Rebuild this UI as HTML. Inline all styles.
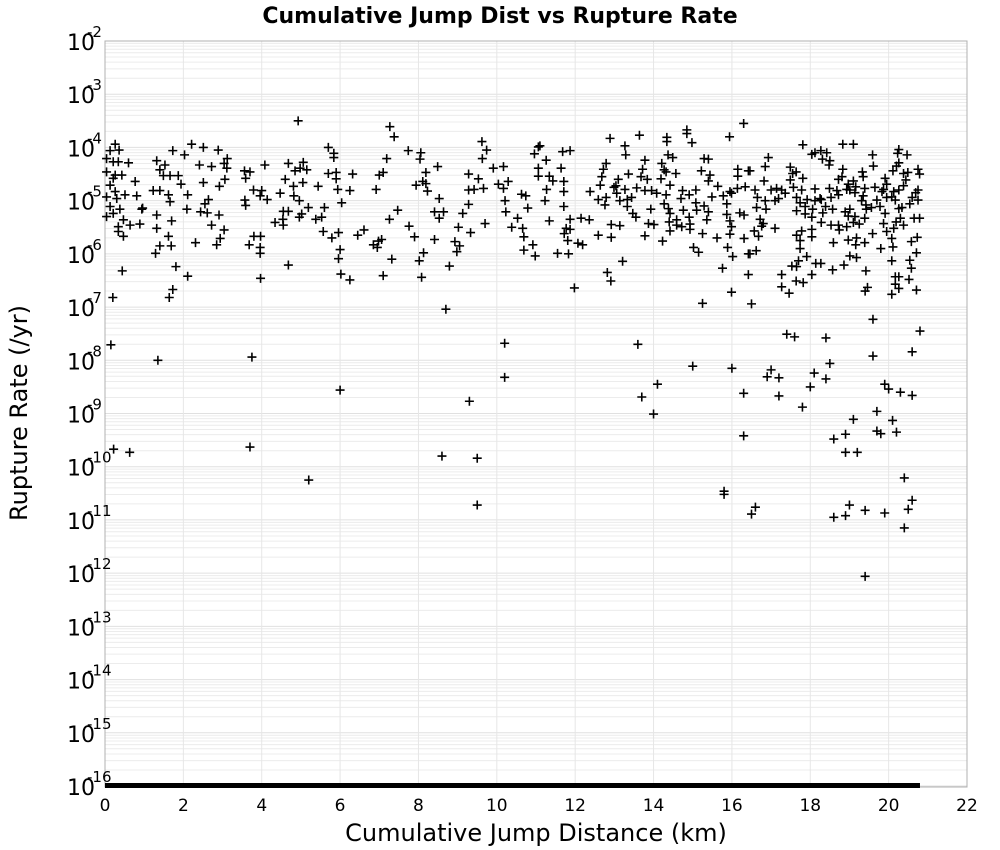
<!DOCTYPE html>
<html><head><meta charset="utf-8">
<style>
html,body{margin:0;padding:0;background:#fff;}
svg{display:block;font-family:"DejaVu Sans","Liberation Sans",sans-serif;}
</style></head>
<body>
<svg id="chart" width="1000" height="850" viewBox="0 0 1000 850" xmlns="http://www.w3.org/2000/svg">
<rect x="0" y="0" width="1000" height="850" fill="#fff"/>
<text x="500" y="23" text-anchor="middle" font-size="22" font-weight="bold">Cumulative Jump Dist vs Rupture Rate</text>
<g id="grid"></g>
<rect x="105" y="41" width="862" height="746" fill="none" stroke="#b0b0b0" stroke-width="1"/>
<g id="yticks"></g>
<g id="xticks"></g>
<g id="marks"></g>
<text x="536" y="841" text-anchor="middle" font-size="24">Cumulative Jump Distance (km)</text>
<text transform="translate(27,413) rotate(-90)" text-anchor="middle" font-size="24">Rupture Rate (/yr)</text>
</svg>
<script>
const xTicks = [0,2,4,6,8,10,12,14,16,18,20,22];
const yTickExps = [-2,-3,-4,-5,-6,-7,-8,-9,-10,-11,-12,-13,-14,-15,-16];
const clippedRange = [0, 20.8];
const distKm = [
4.93,0.26,0.13,0.36,0.04,0.21,0.34,0.6,0.04,0.26,0.43,0.21,0.77,0.13,0.26,0.51,0.81,0.04,0.3,0.13,0.38,0.94,0.21,0.04,0.47,0.64,0.89,0.34,0.34,0.47,0.44,0.2,
1.32,1.53,1.4,1.49,1.66,1.87,1.73,2.03,2.21,2.51,2.89,3.12,2.41,2.72,3.04,3.11,1.94,2.51,3.06,2.92,1.23,1.4,1.62,1.66,2.11,2.64,2.55,2.09,2.44,2.61,0.96,1.32,2.91,1.7,2.72,3.04,1.32,1.62,2.94,1.4,1.69,2.31,2.85,1.29,1.81,2.11,1.73,1.64,
3.56,3.7,3.59,4.08,3.79,4.0,3.96,4.14,3.57,3.59,4.47,4.68,4.85,5.06,4.98,5.15,4.6,5.05,4.81,5.44,4.82,4.96,5.19,4.55,4.68,5.02,4.96,4.54,4.34,4.55,5.38,3.8,3.97,3.68,3.96,3.96,3.97,4.68,
7.27,7.38,5.70,5.84,5.84,7.19,7.74,8.06,8.04,5.70,5.90,5.90,6.32,7.0,7.1,8.19,8.49,8.11,8.19,7.94,8.23,5.94,6.25,6.92,6.04,5.60,5.53,5.57,5.79,5.96,6.0,5.96,6.02,6.25,6.45,6.61,6.85,6.98,7.06,6.95,7.26,7.47,7.76,7.9,7.32,7.1,8.13,8.02,8.08,8.53,8.41,8.64,8.53,8.41,8.79,8.93,9.05,8.98,9.02,9.33,9.13,9.28,9.28,9.42,9.28,9.53,9.66,9.62,9.74,9.63,9.91,10.17,10.04,10.17,10.29,9.70,10.21,10.23,10.53,10.38,10.66,10.69,10.69,10.92,10.98,10.63,10.74,10.79,10.96,11.06,11.06,11.06,
11.1,11.68,11.87,11.26,11.64,11.34,11.43,11.71,11.27,11.71,11.23,11.71,11.34,11.87,12.15,12.36,11.77,11.87,11.72,11.81,12.07,12.19,11.55,11.83,11.98,12.89,13.64,13.27,13.29,12.79,12.72,12.68,12.64,12.38,12.59,12.79,12.76,13.1,13.04,12.99,13.06,13.14,13.27,13.36,13.33,13.44,13.33,13.47,13.55,12.92,13.14,12.92,12.59,13.21,12.82,12.91,
13.78,13.72,13.68,13.84,13.57,13.78,13.95,14.08,13.93,13.87,14.01,13.78,14.21,14.27,14.32,14.37,14.49,14.34,14.34,14.19,14.42,14.32,14.27,14.38,14.42,14.40,14.57,14.59,14.59,14.72,14.42,14.23,14.74,14.70,14.76,14.91,15.08,15.08,15.1,14.91,14.93,14.93,14.85,14.85,14.98,15.29,15.40,15.22,15.44,15.40,15.64,15.49,15.29,15.40,15.36,15.25,15.02,15.15,15.62,15.78,15.87,15.87,15.95,15.99,15.95,15.89,16.02,15.76,15.99,15.25,15.94,16.3,16.15,16.15,16.42,16.14,16.34,15.95,15.99,16.2,16.31,16.31,16.42,16.42,
17.81,18.83,19.10,16.93,16.85,16.82,16.59,16.46,16.65,16.63,16.85,16.87,16.72,16.8,16.76,16.57,16.68,17.1,16.62,16.46,17.0,17.14,17.27,17.19,17.1,17.36,17.49,17.49,17.55,17.64,17.57,17.78,17.81,17.65,17.74,17.65,17.87,17.87,18.04,18.06,17.92,18.12,18.04,18.12,18.27,18.42,18.31,18.5,18.48,18.12,18.28,18.25,18.39,18.32,18.28,18.49,18.53,18.57,18.53,18.72,18.74,18.59,18.68,18.72,18.81,18.72,18.83,18.97,19.01,19.1,19.16,19.14,18.93,18.89,18.97,19.01,19.14,18.93,19.1,19.25,18.97,19.18,19.16,19.39,19.33,19.35,19.39,19.35,19.31,19.42,19.43,19.56,19.39,19.59,19.61,19.65,19.70,19.78,19.59,19.8,19.91,19.95,19.87,19.83,19.95,19.91,19.87,19.95,20.11,20.2,20.26,20.26,20.23,20.47,20.38,20.49,20.44,20.38,20.26,20.13,20.08,20.17,20.26,20.34,20.3,20.19,20.38,20.13,20.08,20.11,20.08,20.75,20.79,20.75,20.69,20.6,20.75,20.54,20.65,20.79,20.73,20.58,20.71,20.54,20.58,20.52,20.71,20.08,20.17,20.26,20.17,20.26,19.42,19.46,18.57,18.86,19.01,19.18,18.14,18.27,17.91,17.7,17.53,17.65,17.27,17.64,17.82,18.04,17.27,17.46,17.74,17.74,17.78,17.65,18.04,18.04,
0.15,0.22,0.63,1.35,3.7,3.75,5.2,6.0,8.6,8.7,9.3,9.5,9.5,10.2,10.2,13.6,13.7,14.0,14.1,15.0,15.8,15.8,16.3,16.3,16.5,16.6,16.0,16.5,17.0,16.9,17.2,17.2,17.4,17.6,17.8,18.0,18.1,18.4,18.5,18.4,18.6,18.6,18.9,18.9,18.9,19.0,19.1,19.2,19.4,19.4,19.4,19.6,19.6,19.7,19.7,19.8,19.9,19.9,20.0,20.1,20.2,20.3,20.4,20.5,20.6,20.6,20.6,20.8,20.4
];
const rateExp = [
-3.50,-3.94,-4.06,-4.05,-4.21,-4.27,-4.27,-4.29,-4.46,-4.52,-4.52,-4.58,-4.64,-4.71,-4.83,-4.89,-4.91,-4.93,-4.96,-5.11,-5.16,-5.16,-5.24,-5.30,-5.36,-5.46,-5.44,-5.49,-5.58,-5.67,-6.32,-6.82,
-4.25,-4.33,-4.42,-4.53,-4.53,-4.53,-4.06,-4.14,-3.94,-4.0,-4.05,-4.21,-4.33,-4.36,-4.3,-4.39,-4.69,-4.66,-4.6,-4.73,-4.81,-4.81,-4.89,-5.02,-4.89,-4.98,-5.06,-5.16,-5.21,-5.23,-5.14,-5.27,-5.27,-5.38,-5.46,-5.55,-5.52,-5.67,-5.71,-5.85,-5.85,-5.79,-5.83,-5.99,-6.24,-6.42,-6.67,-6.82,
-4.44,-4.46,-4.58,-4.33,-4.8,-4.81,-4.91,-4.98,-4.99,-5.09,-4.86,-4.3,-4.44,-4.28,-4.39,-4.42,-4.6,-4.66,-4.73,-4.73,-4.91,-5.0,-5.13,-5.2,-5.2,-5.25,-5.31,-5.35,-5.41,-5.46,-5.35,-5.67,-5.67,-5.83,-5.88,-5.99,-6.46,-6.21,
-3.61,-3.80,-4.0,-4.11,-4.19,-4.21,-4.06,-4.1,-4.22,-4.49,-4.47,-4.59,-4.5,-4.52,-4.47,-4.47,-4.36,-4.64,-4.68,-4.71,-4.82,-4.79,-4.81,-4.79,-5.04,-5.13,-5.31,-5.58,-5.70,-5.6,-5.92,-6.09,-6.38,-6.49,-5.65,-5.55,-5.83,-5.76,-5.73,-5.88,-5.35,-5.18,-5.48,-5.68,-6.1,-6.41,-5.98,-6.13,-6.44,-4.96,-5.21,-5.21,-5.33,-5.73,-6.23,-5.77,-5.85,-5.96,-5.5,-5.6,-5.24,-5.07,-4.8,-4.79,-4.5,-4.59,-4.77,-3.89,-4.05,-4.21,-4.39,-4.36,-4.69,-4.77,-4.64,-5.43,-5.0,-5.21,-5.33,-5.5,-5.52,-5.68,-5.93,-5.83,-6.04,-4.88,-4.91,-5.14,-4.12,-3.99,-4.39,-4.54,
-3.97,-4.08,-4.06,-4.24,-4.39,-4.54,-4.63,-4.64,-4.79,-4.83,-5.0,-5.11,-5.38,-5.35,-5.33,-5.36,-5.52,-5.54,-5.62,-5.75,-5.8,-5.83,-5.99,-6.0,-6.64,-3.83,-3.77,-3.97,-4.14,-4.3,-4.41,-4.55,-4.71,-4.83,-4.98,-4.94,-5.08,-4.6,-4.72,-4.75,-4.86,-5.0,-4.79,-4.5,-4.98,-4.94,-5.11,-5.24,-5.31,-5.45,-5.47,-5.69,-5.65,-6.14,-6.35,-6.51,
-4.24,-4.41,-4.55,-4.6,-4.76,-4.81,-4.81,-4.86,-5.16,-5.43,-5.45,-5.66,-4.3,-4.42,-4.46,-4.14,-4.19,-3.81,-3.89,-4.59,-4.71,-4.89,-5.06,-5.15,-5.24,-5.4,-4.49,-5.36,-5.46,-5.49,-5.57,-5.76,-4.81,-4.96,-5.18,-4.89,-4.8,-5.04,-5.18,-5.31,-5.44,-5.54,-3.67,-3.74,-3.91,-4.21,-4.22,-4.44,-4.52,-4.63,-4.73,-4.93,-5.1,-5.21,-5.36,-5.62,-5.88,-5.97,-5.7,-4.91,-5.06,-5.26,-5.38,-5.49,-5.63,-5.88,-6.05,-6.27,-6.72,-6.93,-3.8,-3.55,-4.41,-4.54,-4.44,-4.77,-4.74,-4.83,-4.86,-5.23,-5.27,-5.71,-6.0,-6.39,
-3.95,-3.94,-3.94,-4.19,-4.36,-4.63,-4.8,-4.44,-4.94,-5.13,-5.0,-5.16,-5.35,-5.43,-5.48,-5.57,-5.67,-5.52,-5.94,-6.0,-4.8,-4.77,-4.8,-4.96,-5.0,-4.86,-4.37,-4.61,-4.49,-4.46,-4.75,-4.8,-4.58,-4.94,-5.04,-5.19,-5.11,-5.25,-5.31,-5.16,-4.98,-5.0,-4.13,-4.1,-4.06,-4.1,-4.22,-4.25,-4.33,-4.78,-4.98,-4.96,-5.11,-5.23,-5.41,-4.77,-4.94,-5.16,-5.46,-5.46,-5.55,-5.79,-4.81,-4.89,-4.55,-4.6,-4.41,-4.69,-4.8,-4.63,-4.74,-4.85,-4.79,-5.21,-5.29,-5.16,-5.3,-5.49,-5.41,-5.44,-5.74,-5.7,-5.83,-5.79,-4.46,-4.55,-4.77,-4.91,-5.0,-5.08,-5.16,-5.13,-5.33,-4.14,-4.35,-4.75,-4.99,-5.11,-5.62,-5.9,-4.58,-4.69,-4.79,-4.83,-4.94,-5.24,-5.43,-5.58,-4.44,-4.35,-4.29,-4.04,-4.11,-4.14,-4.49,-4.47,-4.61,-4.72,-4.8,-4.83,-4.93,-4.99,-5.15,-5.13,-5.33,-5.4,-5.46,-5.52,-5.71,-5.87,-6.13,-4.41,-4.5,-4.8,-4.85,-4.94,-4.99,-5.06,-5.33,-5.33,-5.69,-5.77,-5.98,-6.12,-6.27,-6.48,-6.68,-6.76,-6.43,-6.43,-6.57,-6.65,-6.32,-6.63,-6.3,-6.21,-6.04,-6.07,-6.18,-6.18,-6.05,-6.13,-6.23,-6.24,-6.39,-6.51,-6.54,-6.39,-6.62,-6.74,-5.9,-5.75,-5.57,-5.65,-5.54,-5.68,
-7.71,-9.67,-9.73,-8.0,-9.63,-7.94,-10.25,-8.56,-9.8,-7.04,-8.77,-9.84,-10.72,-7.68,-8.32,-7.70,-8.69,-9.01,-8.45,-8.11,-10.46,-10.52,-9.42,-8.62,-10.89,-10.76,-8.15,-6.94,-8.18,-8.31,-8.67,-8.33,-7.51,-7.56,-8.88,-8.5,-8.24,-7.58,-8.06,-8.35,-10.95,-9.48,-9.73,-10.92,-9.39,-10.72,-9.11,-9.73,-10.82,-12.06,-6.70,-7.23,-7.92,-8.96,-9.33,-9.38,-10.87,-8.45,-8.54,-9.13,-9.35,-8.6,-10.21,-10.80,-10.63,-8.66,-7.84,-7.45,-11.15
];

const NS = 'http://www.w3.org/2000/svg';
const X0 = 105, X1 = 967, Y0 = 41, Y1 = 786;
const xMin = 0, xMax = 22, eMax = -2, eMin = -16;
function xScale(v){ return X0 + (v - xMin) / (xMax - xMin) * (X1 - X0); }
function yScale(e){ return Y0 + (eMax - e) / (eMax - eMin) * (Y1 - Y0); }
function mk(tag, attrs, parent){
  const el = document.createElementNS(NS, tag);
  for (const k in attrs) el.setAttribute(k, attrs[k]);
  parent.appendChild(el);
  return el;
}
const grid = document.getElementById('grid');
for (let d = eMax; d > eMin; d--) {
  for (let m = 1; m <= 9; m++) {
    const y = yScale(d - 1 + Math.log10(m));
    const ln = mk('line', {x1: X0, x2: X1, y1: y, y2: y, stroke: m === 1 ? '#e0e0e0' : '#ececec', 'stroke-width': 1}, grid);
    
    
  }
}
xTicks.forEach(t => {
  const x = xScale(t);
  const ln = mk('line', {x1: x, x2: x, y1: Y0, y2: Y1, stroke: '#e6e6e6', 'stroke-width': 1}, grid);
  
  
});
const yt = document.getElementById('yticks');
yTickExps.forEach(e => {
  const y = yScale(e);
  const g = mk('g', {}, yt);
  
  
  const base = mk('text', {x: 67, y: y + 9, 'font-size': 22, fill: '#000'}, g);
  base.textContent = '10';
  const sup = mk('text', {x: 87, y: y - 4, 'font-size': 15, fill: '#000'}, g);
  sup.textContent = String(e);
});
const xt = document.getElementById('xticks');
xTicks.forEach(t => {
  const tx = mk('text', {x: xScale(t), y: 811, 'font-size': 17, 'text-anchor': 'middle', fill: '#000'}, xt);
  
  
  tx.textContent = String(t);
});
const marks = document.getElementById('marks');
const clip = mk('rect', {x: xScale(clippedRange[0]), y: Y1 - 3, width: xScale(clippedRange[1]) - xScale(clippedRange[0]), height: 5, fill: '#000'}, marks);


const h = 4.5;
for (let i = 0; i < distKm.length; i++) {
  const x = xScale(distKm[i]), y = yScale(rateExp[i]);
  const p = mk('path', {d: `M${x-h},${y}H${x+h}M${x},${y-h}V${y+h}`, stroke: '#000', 'stroke-width': 1.6, fill: 'none'}, marks);
  
  
}
</script>
</body></html>
